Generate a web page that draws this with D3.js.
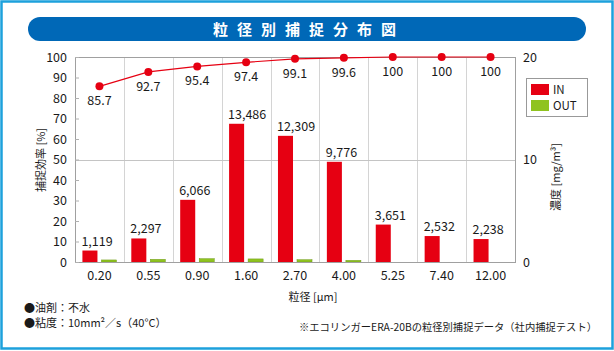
<!DOCTYPE html>
<html>
<head>
<meta charset="utf-8">
<script src="https://cdn.jsdelivr.net/npm/d3@7"></script>
<style>
  body { margin: 0; background: #fff; }
  svg { display: block; font-family: "Noto Sans CJK JP", "Noto Sans", sans-serif; }
</style>
</head>
<body>
<div id="wrapper"></div>
<script>
// data
const sizes = ["0.20", "0.55", "0.90", "1.60", "2.70", "4.00", "5.25", "7.40", "12.00"]
const inCounts = [1119, 2297, 6066, 13486, 12309, 9776, 3651, 2532, 2238]
const outCounts = [200, 260, 320, 300, 220, 160, 0, 0, 0]
const efficiency = [85.7, 92.7, 95.4, 97.4, 99.1, 99.6, 100, 100, 100]
const leftTicks = [0, 10, 20, 30, 40, 50, 60, 70, 80, 90, 100]
const rightTicks = [0, 10, 20]
const seriesNames = ["IN", "OUT"]

function drawChart() {
  let dimensions = {
    width: 614,
    height: 351,
    margin: { top: 57, right: 99, bottom: 89, left: 75 },
  }
  dimensions.boundedWidth = dimensions.width - dimensions.margin.left - dimensions.margin.right
  dimensions.boundedHeight = dimensions.height - dimensions.margin.top - dimensions.margin.bottom

  const red = "#e60012"
  const green = "#8fc31f"

  const wrapper = d3.select("#wrapper")
    .append("svg")
    .attr("width", dimensions.width)
    .attr("height", dimensions.height)

  // outer frame + title pill
  wrapper.append("rect")
    .attr("x", 1.5).attr("y", 1.5)
    .attr("width", 611).attr("height", 347)
    .attr("fill", "none")
    .attr("stroke", "#1da1dc")
    .attr("stroke-width", 2.5)

  wrapper.append("rect")
    .attr("x", 28).attr("y", 17)
    .attr("width", 558).attr("height", 24)
    .attr("rx", 12)
    .attr("fill", "#0068b7")

  wrapper.append("text")
    .attr("x", 309).attr("y", 34.5)
    .attr("text-anchor", "middle")
    .attr("fill", "#fff")
    .attr("font-size", 15)
    .attr("font-weight", "bold")
    .attr("letter-spacing", 9)
    .text("粒径別捕捉分布図")

  const bounds = wrapper.append("g")
    .attr("transform", `translate(${dimensions.margin.left}, ${dimensions.margin.top})`)

  const xScale = d3.scaleBand()
    .domain(sizes)
    .range([0, dimensions.boundedWidth])

  const seriesScale = d3.scaleBand()
    .domain(seriesNames)
    .range([0, xScale.bandwidth()])
    .paddingInner(0.21)
    .paddingOuter(0.39)

  const yLeft = d3.scaleLinear()
    .domain([0, 100])
    .range([dimensions.boundedHeight, 0])

  const yRight = d3.scaleLinear()
    .domain([0, 20])
    .range([dimensions.boundedHeight, 0])

  // vertical grid at category borders
  bounds.append("g")
    .selectAll("line")
    .data(sizes.slice(1))
    .enter().append("line")
      .attr("x1", (d) => Math.round(xScale(d)) + 0.5)
      .attr("x2", (d) => Math.round(xScale(d)) + 0.5)
      .attr("y1", 0)
      .attr("y2", dimensions.boundedHeight)
      .attr("stroke", "#d4d4d4")

  // horizontal grid at 50
  bounds.append("line")
    .attr("x1", 0).attr("x2", dimensions.boundedWidth)
    .attr("y1", Math.round(yLeft(50)) + 0.5)
    .attr("y2", Math.round(yLeft(50)) + 0.5)
    .attr("stroke", "#c4c4c4")

  // bars (mg/m3 = count / 1000)
  const barData = sizes.map((s, i) => ({ size: s, IN: inCounts[i], OUT: outCounts[i] }))

  const groups = bounds.selectAll(".grp")
    .data(barData)
    .enter().append("g")
      .attr("transform", (d) => `translate(${xScale(d.size)}, 0)`)

  groups.append("rect")
    .attr("x", seriesScale("IN"))
    .attr("y", (d) => yRight(d.IN / 1000))
    .attr("width", seriesScale.bandwidth())
    .attr("height", (d) => dimensions.boundedHeight - yRight(d.IN / 1000))
    .attr("fill", red)

  groups.filter((d) => d.OUT > 0).append("rect")
    .attr("x", seriesScale("OUT"))
    .attr("y", (d) => yRight(d.OUT / 1000))
    .attr("width", seriesScale.bandwidth())
    .attr("height", (d) => dimensions.boundedHeight - yRight(d.OUT / 1000))
    .attr("fill", green)
    .attr("stroke", "#6f9a18")
    .attr("stroke-width", 0.5)

  groups.append("text")
    .attr("x", seriesScale("IN") - 1)
    .attr("y", (d) => yRight(d.IN / 1000) - 5)
    .attr("font-size", 12.5)
    .attr("fill", "#1a1a1a")
    .text((d) => d3.format(",")(d.IN))

  // plot frame
  bounds.append("rect")
    .attr("x", 0.5).attr("y", 0.5)
    .attr("width", dimensions.boundedWidth)
    .attr("height", dimensions.boundedHeight)
    .attr("fill", "none")
    .attr("stroke", "#a0a0a0")

  // efficiency line
  const lineGenerator = d3.line()
    .x((d, i) => xScale(sizes[i]) + xScale.bandwidth() / 2)
    .y((d) => yLeft(d))

  bounds.append("path")
    .datum(efficiency)
    .attr("d", lineGenerator)
    .attr("fill", "none")
    .attr("stroke", red)
    .attr("stroke-width", 1.2)

  bounds.selectAll(".pt")
    .data(efficiency)
    .enter().append("circle")
      .attr("cx", (d, i) => xScale(sizes[i]) + xScale.bandwidth() / 2)
      .attr("cy", (d) => yLeft(d))
      .attr("r", 4)
      .attr("fill", red)

  bounds.selectAll(".ptlabel")
    .data(efficiency)
    .enter().append("text")
      .attr("x", (d, i) => xScale(sizes[i]) + xScale.bandwidth() / 2)
      .attr("y", (d) => yLeft(d) + 19)
      .attr("text-anchor", "middle")
      .attr("font-size", 12.5)
      .attr("fill", "#1a1a1a")
      .text((d) => d)

  // axes
  const yAxisLeft = bounds.append("g")
    .call(d3.axisLeft(yLeft).tickValues(leftTicks).tickSize(-4).tickPadding(8))
  const yAxisRight = bounds.append("g")
    .attr("transform", `translate(${dimensions.boundedWidth}, 0)`)
    .call(d3.axisRight(yRight).tickValues(rightTicks).tickSize(0).tickPadding(8))
  const xAxis = bounds.append("g")
    .attr("transform", `translate(0, ${dimensions.boundedHeight})`)
    .call(d3.axisBottom(xScale).tickSize(0).tickPadding(9))

  ;[yAxisLeft, yAxisRight, xAxis].forEach((ax) => {
    ax.select(".domain").remove()
    ax.selectAll("text").attr("font-size", 12.5).attr("fill", "#1a1a1a")
      .style("font-family", '"Noto Sans CJK JP", sans-serif')
    ax.selectAll("line").attr("stroke", "#b0b0b0")
  })

  // axis titles
  wrapper.append("text")
    .attr("transform", "translate(45, 160) rotate(-90)")
    .attr("text-anchor", "middle")
    .attr("font-size", 11)
    .attr("fill", "#1a1a1a")
    .text("捕捉効率 [%]")

  wrapper.append("text")
    .attr("transform", "translate(560, 177) rotate(-90)")
    .attr("text-anchor", "middle")
    .attr("font-size", 11)
    .attr("fill", "#1a1a1a")
    .text("濃度 [mg/m³]")

  wrapper.append("text")
    .attr("x", 313).attr("y", 301)
    .attr("text-anchor", "middle")
    .attr("font-size", 11)
    .attr("fill", "#1a1a1a")
    .text("粒径 [μm]")

  // legend
  const legend = wrapper.append("g")
  legend.append("rect")
    .attr("x", 526.5).attr("y", 78.5)
    .attr("width", 61).attr("height", 38)
    .attr("fill", "#fff")
    .attr("stroke", "#999")
  seriesNames.forEach((name, i) => {
    legend.append("rect")
      .attr("x", 531).attr("y", 84 + i * 16)
      .attr("width", 18).attr("height", 11)
      .attr("fill", i == 0 ? red : green)
    legend.append("text")
      .attr("x", 553).attr("y", 94 + i * 16)
      .attr("font-size", 11.5)
      .attr("fill", "#1a1a1a")
      .text(name)
  })

  // notes
  wrapper.append("text")
    .attr("x", 24).attr("y", 312)
    .attr("font-size", 11)
    .attr("fill", "#1a1a1a")
    .text("●油剤：不水")
  wrapper.append("text")
    .attr("x", 24).attr("y", 327)
    .attr("font-size", 11)
    .attr("fill", "#1a1a1a")
    .text("●粘度：10mm²／s（40°C）")
  wrapper.append("text")
    .attr("x", 597).attr("y", 331)
    .attr("text-anchor", "end")
    .attr("font-size", 10.3)
    .attr("fill", "#1a1a1a")
    .text("※エコリンガーERA-20Bの粒径別捕捉データ（社内捕捉テスト）")
}

drawChart()
</script>
</body>
</html>
